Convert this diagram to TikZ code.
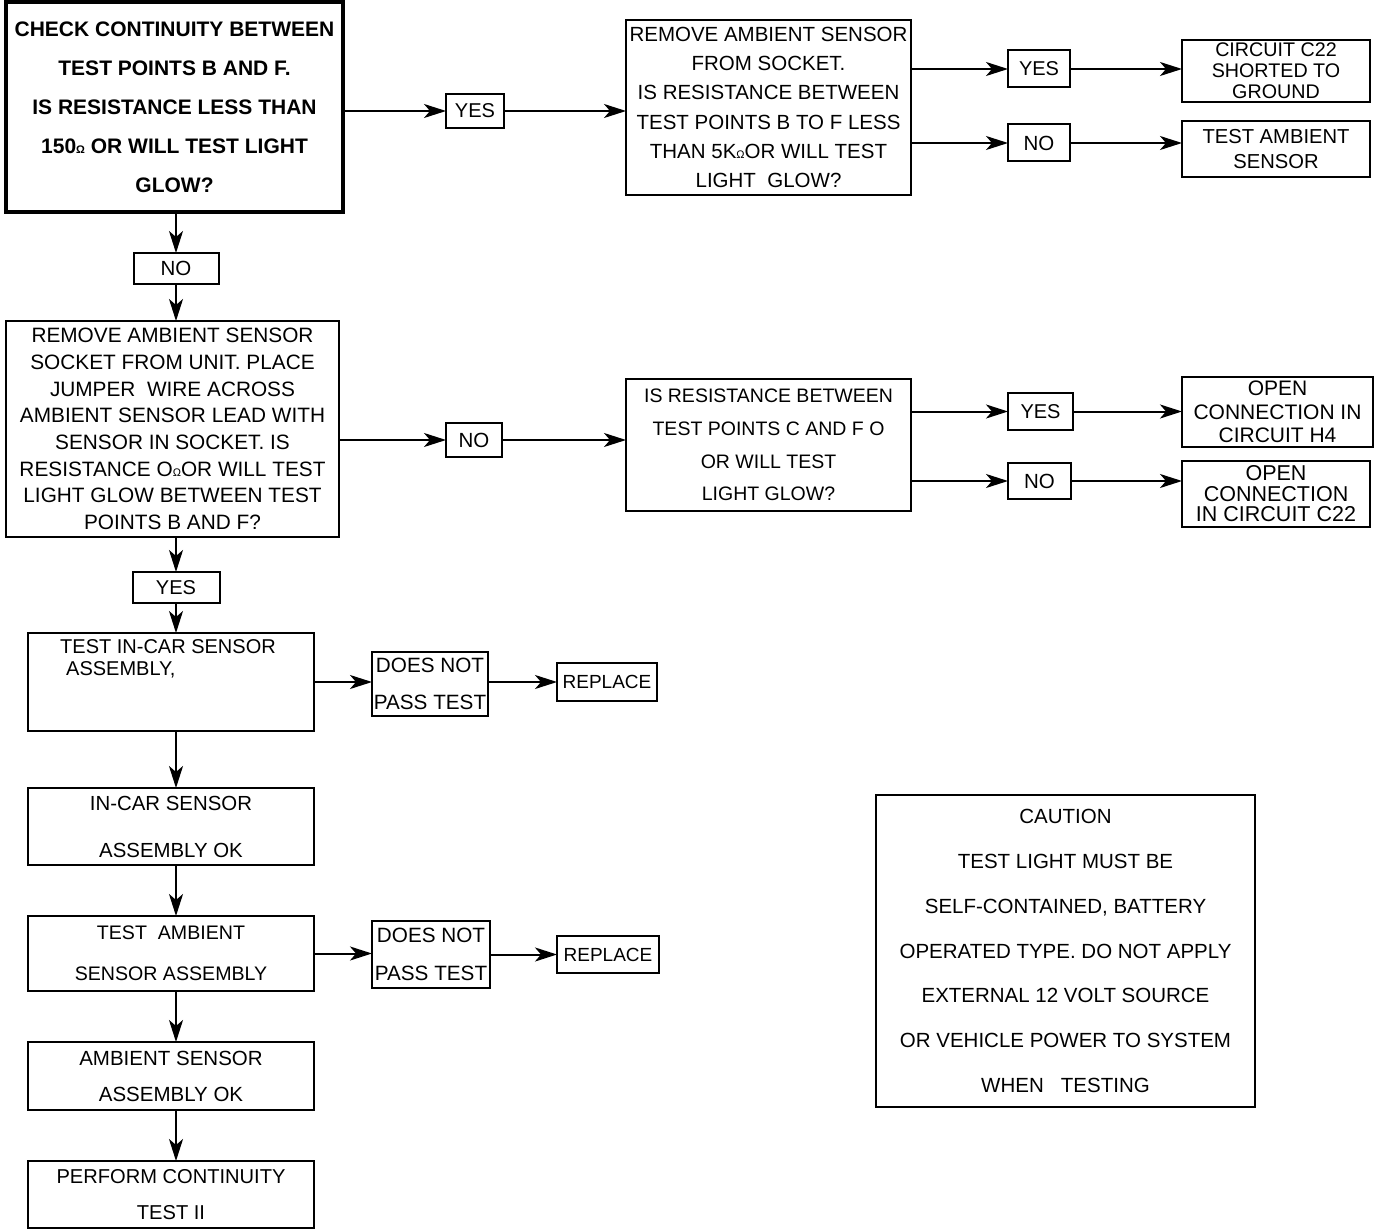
\documentclass[tikz,border=0pt]{standalone}
\usepackage{fontspec}
\setmainfont{Liberation Sans}
\usetikzlibrary{arrows.meta}
\newcommand\ohm{{\fontsize{11}{11}\selectfont Ω}}
\tikzset{
  box/.style={draw, line width=2pt, inner sep=0pt, outer sep=0pt, align=center},
  bfont/.style 2 args={font=\fontsize{#1}{#2}\selectfont},
  sz/.style 2 args={minimum width=#1, minimum height=#2},
  arr/.style={line width=2pt, -{Stealth[length=22pt, width=14pt, inset=6pt]}},
}
\begin{document}
\begin{tikzpicture}[x=1pt, y=-1pt]
\useasboundingbox (0,0) rectangle (1392,1230);

% top-left
\node[box, line width=4pt, font=\bfseries\fontsize{21}{39}\selectfont, sz={337pt}{210pt}] (tl) at (174.5,107)
  {CHECK CONTINUITY BETWEEN\\TEST POINTS B AND F.\\IS RESISTANCE LESS THAN\\150\ohm\ OR WILL TEST LIGHT\\GLOW?};
\node[box, bfont={20}{20}, sz={58pt}{34pt}] (yes1) at (475,111) {YES};
\node[box, bfont={20.5}{29.2}, sz={285pt}{175pt}] (B) at (768.5,107.5)
  {REMOVE AMBIENT SENSOR\\FROM SOCKET.\\IS RESISTANCE BETWEEN\\TEST POINTS B TO F LESS\\THAN 5K\ohm OR WILL TEST\\LIGHT\ \ GLOW?};
\node[box, bfont={20}{20}, sz={62pt}{37pt}] (yes2) at (1039,69) {YES};
\node[box, bfont={19.7}{21}, sz={188pt}{62pt}] (c22) at (1276,71) {CIRCUIT C22\\SHORTED TO\\GROUND};
\node[box, bfont={20.5}{20.5}, sz={62pt}{37pt}] (no2) at (1039,143) {NO};
\node[box, bfont={20.2}{25}, sz={188pt}{56pt}] (tas) at (1276,149) {TEST AMBIENT\\SENSOR};

% second row
\node[box, bfont={20.5}{20.5}, sz={85pt}{31pt}] (no1) at (176,268.5) {NO};
\node[box, bfont={20.8}{26.7}, sz={333pt}{216pt}] (big) at (172.5,429)
  {REMOVE AMBIENT SENSOR\\SOCKET FROM UNIT. PLACE\\JUMPER\ \ WIRE ACROSS\\AMBIENT SENSOR LEAD WITH\\SENSOR IN SOCKET. IS\\RESISTANCE O\ohm OR WILL TEST\\LIGHT GLOW BETWEEN TEST\\POINTS B AND F?};
\node[box, bfont={20.5}{20.5}, sz={56pt}{34pt}] (no3) at (474,440) {NO};
\node[box, bfont={19.5}{32.7}, sz={285pt}{132pt}] (cbox) at (768.5,445)
  {IS RESISTANCE BETWEEN\\TEST POINTS C AND F O\\OR WILL TEST\\LIGHT GLOW?};
\node[box, bfont={20}{20}, sz={65pt}{37pt}] (yes4) at (1040.5,411.5) {YES};
\node[box, bfont={21}{23.5}, sz={191pt}{70pt}] (h4) at (1277.5,412) {OPEN\\CONNECTION IN\\CIRCUIT H4};
\node[box, bfont={20.5}{20.5}, sz={63pt}{36pt}] (no4) at (1039.5,481) {NO};
\node[box, bfont={21.5}{20.5}, sz={188pt}{66pt}] (c22b) at (1276,494) {OPEN\\CONNECTION\\IN CIRCUIT C22};

% lower column
\node[box, bfont={20}{20}, sz={87pt}{31pt}] (yes3) at (176,587.5) {YES};
\node[box, sz={286pt}{98pt},
  label={[anchor=north west, inner sep=0pt, align=left, font=\fontsize{20}{22}\selectfont, xshift=32pt, yshift=-6pt]north west:TEST IN-CAR SENSOR\\\hspace*{6pt}ASSEMBLY,}] (incar) at (171,682) {};
\node[box, bfont={20.7}{37}, sz={116pt}{64pt}] (dnp1) at (430,684) {DOES NOT\\PASS TEST};
\node[box, bfont={19}{19}, sz={100pt}{38pt}] (rep1) at (607,682) {REPLACE};
\node[box, bfont={20.4}{47}, sz={286pt}{77pt}] (incarok) at (171,826.5) {IN-CAR SENSOR\\ASSEMBLY OK};
\node[box, bfont={19.6}{41}, sz={286pt}{75pt}] (ambtest) at (171,953.5) {TEST\ \ AMBIENT\\SENSOR ASSEMBLY};
\node[box, bfont={20.7}{38}, sz={118pt}{67pt}] (dnp2) at (431,954.5) {DOES NOT\\PASS TEST};
\node[box, bfont={19}{19}, sz={102pt}{37pt}] (rep2) at (608,954.5) {REPLACE};
\node[box, bfont={20.5}{36}, sz={286pt}{68pt}] (ambok) at (171,1076) {AMBIENT SENSOR\\ASSEMBLY OK};
\node[box, bfont={20.1}{36}, sz={286pt}{67pt}] (perform) at (171,1194.5) {PERFORM CONTINUITY\\TEST II};

% caution
\node[box, bfont={20.5}{44.8}, sz={379pt}{312pt}] (caution) at (1065.5,951)
  {CAUTION\\TEST LIGHT MUST BE\\SELF-CONTAINED, BATTERY\\OPERATED TYPE. DO NOT APPLY\\EXTERNAL 12 VOLT SOURCE\\OR VEHICLE POWER TO SYSTEM\\WHEN\ \ \ TESTING};

% connectors
\draw[arr] (tl.east |- yes1) -- (yes1.west);
\draw[arr] (yes1.east) -- (yes1.east -| B.west);
\draw[arr] (B.east |- yes2) -- (yes2.west);
\draw[arr] (yes2.east) -- (yes2.east -| c22.west);
\draw[arr] (B.east |- no2) -- (no2.west);
\draw[arr] (no2.east) -- (no2.east -| tas.west);
\draw[arr] (tl.south -| no1) -- (no1.north);
\draw[arr] (no1.south) -- (no1.south |- big.north);
\draw[arr] (big.east |- no3) -- (no3.west);
\draw[arr] (no3.east) -- (no3.east -| cbox.west);
\draw[arr] (cbox.east |- yes4) -- (yes4.west);
\draw[arr] (yes4.east) -- (yes4.east -| h4.west);
\draw[arr] (cbox.east |- no4) -- (no4.west);
\draw[arr] (no4.east) -- (no4.east -| c22b.west);
\draw[arr] (big.south -| yes3) -- (yes3.north);
\draw[arr] (yes3.south) -- (yes3.south |- incar.north);
\draw[arr] (incar.east) -- (incar.east -| dnp1.west);
\draw[arr] (dnp1.east |- rep1) -- (rep1.west);
\draw[arr] (incar.south -| yes3) -- (incarok.north -| yes3);
\draw[arr] (incarok.south -| yes3) -- (ambtest.north -| yes3);
\draw[arr] (ambtest.east) -- (ambtest.east -| dnp2.west);
\draw[arr] (dnp2.east |- rep2) -- (rep2.west);
\draw[arr] (ambtest.south -| yes3) -- (ambok.north -| yes3);
\draw[arr] (ambok.south -| yes3) -- (perform.north -| yes3);
\end{tikzpicture}
\end{document}
